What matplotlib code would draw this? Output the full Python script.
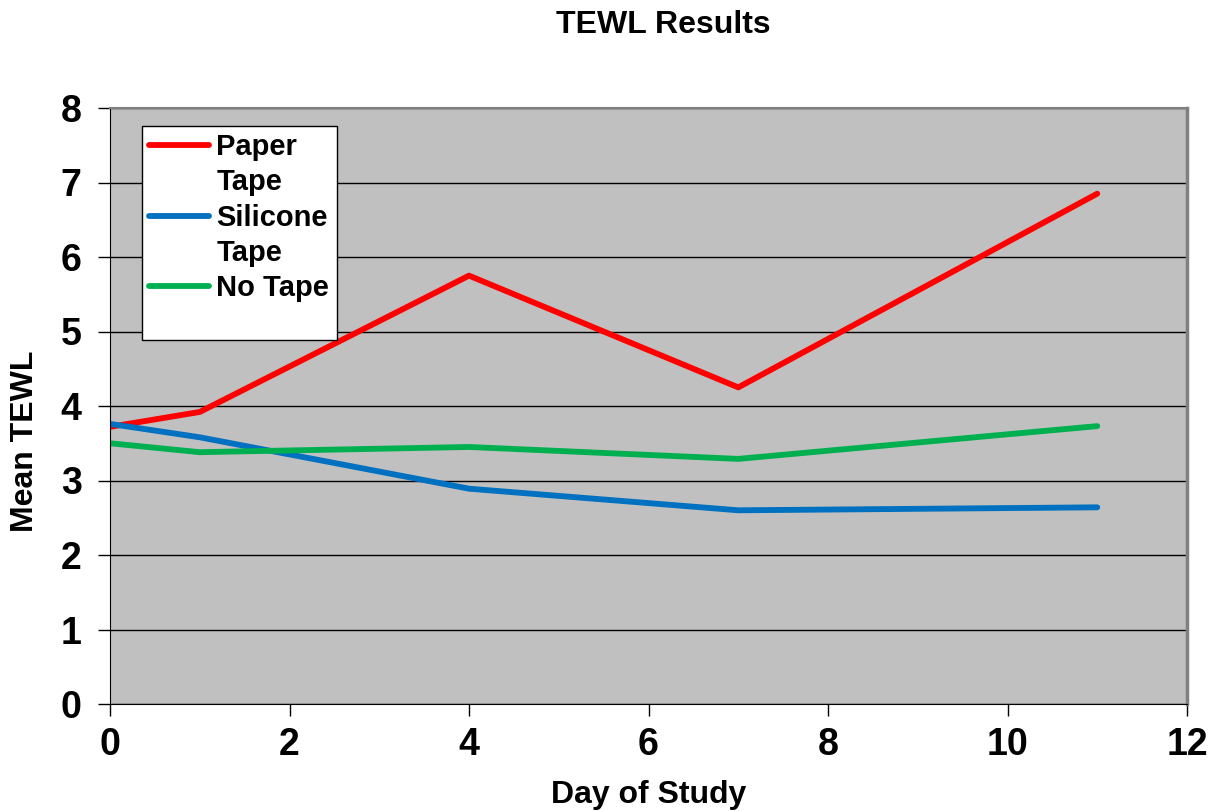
import matplotlib
matplotlib.use("Agg")
import matplotlib.pyplot as plt

plt.rcParams['font.family'] = ['Liberation Sans', 'DejaVu Sans']
plt.rcParams['font.weight'] = 'bold'

days = [0, 1, 4, 7, 11]
paper_tape = [3.72, 3.92, 5.75, 4.25, 6.85]
silicone_tape = [3.76, 3.58, 2.89, 2.60, 2.64]
no_tape = [3.50, 3.38, 3.45, 3.29, 3.73]
# legend rows as the original wraps them
legend_rows = ['Paper', 'Tape', 'Silicone', 'Tape', 'No Tape', '']

fig = plt.figure(figsize=(12.14, 8.11), dpi=100)
ax = fig.add_axes([110 / 1214, 1 - 704 / 811, 1077 / 1214, 596 / 811])
ax.set_facecolor('#C0C0C0')

l1, = ax.plot(days, paper_tape, color='#FF0000', lw=4.2, solid_capstyle='round')
l2, = ax.plot(days, silicone_tape, color='#0070C0', lw=4.2, solid_capstyle='round')
l3, = ax.plot(days, no_tape, color='#00B050', lw=4.2, solid_capstyle='round')
blank, = ax.plot([], [], color='none')

ax.set_xlim(0, 12)
ax.set_ylim(0, 8)
ax.set_xticks(range(0, 13, 2))
ax.set_yticks(range(0, 9))
ax.yaxis.grid(True, color='black', lw=1)
ax.set_axisbelow(True)
ax.tick_params(axis='both', labelsize=27, direction='out', length=8.5, width=1)
ax.tick_params(axis='x', pad=8)
ax.tick_params(axis='y', pad=12)

ax.spines['left'].set_color('black')
ax.spines['bottom'].set_color('black')
ax.spines['top'].set_color('#808080')
ax.spines['right'].set_color('#808080')
ax.spines['right'].set_linewidth(2.5)
ax.spines['top'].set_linewidth(1.5)

ax.set_xlabel('Day of Study', fontsize=23, fontweight='bold', va='center')
ax.xaxis.set_label_coords(0.5, (704 - 795) / 596)
ax.set_ylabel('Mean TEWL', fontsize=23, fontweight='bold', va='center')
ax.yaxis.set_label_coords((25 - 110) / 1077, (704 - 441) / 596)
fig.text(663 / 1214, 1 - 25 / 811, 'TEWL Results', ha='center', va='center',
         fontsize=23, fontweight='bold')

leg = ax.legend([l1, blank, l2, blank, l3, blank], legend_rows,
                loc='upper left', bbox_to_anchor=(0.0297, 0.970), borderaxespad=0,
                fontsize=21, frameon=True, fancybox=False, framealpha=1,
                edgecolor='black', handlelength=2.05, handletextpad=0.25,
                labelspacing=0.25, borderpad=0.25)
leg.get_frame().set_linewidth(1)
leg.get_texts()[-1].set_fontsize(10)

fig.savefig('out.png', dpi=100)
